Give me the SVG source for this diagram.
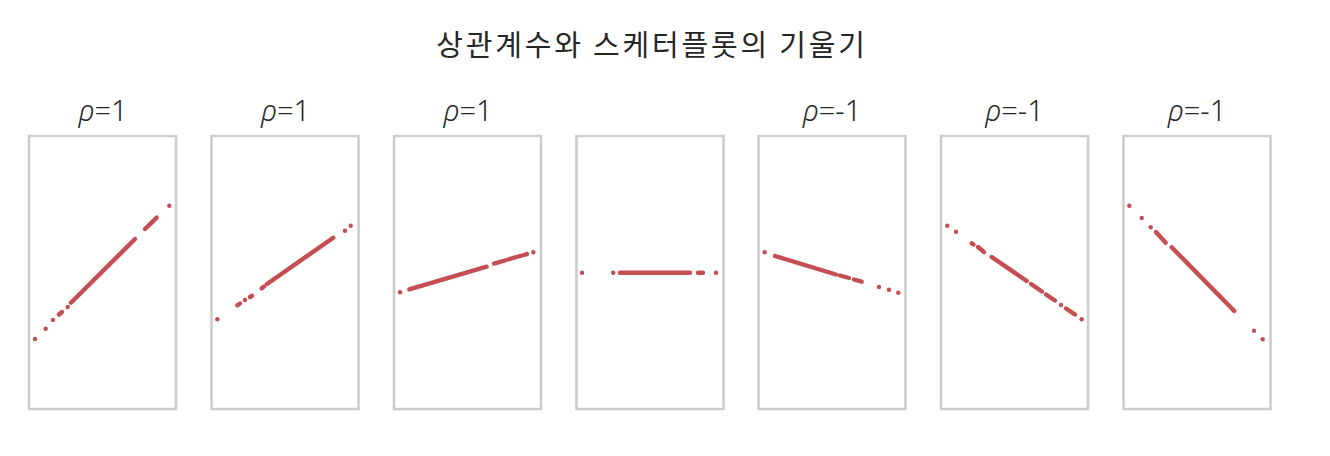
<svg xmlns="http://www.w3.org/2000/svg" width="1330" height="456" viewBox="0 0 1330 456">
<style>
.frame{fill:none;stroke:#cccccc;stroke-width:2.5}
.lab{font-family:"Noto Sans","Noto Sans CJK KR",sans-serif;font-size:29px;font-weight:300;fill:#262626;text-anchor:middle}
.rho{font-style:italic}
.title{font-family:"Noto Sans CJK KR","Noto Sans",sans-serif;font-size:29px;fill:#262626;text-anchor:middle;letter-spacing:2.8px}
.pt{fill:#c44e52}
.seg{stroke:#c44e52;stroke-width:4.4;stroke-linecap:round;fill:none}
</style>
<rect width="1330" height="456" fill="#ffffff"/>
<text class="title" x="652" y="56">상관계수와 스케터플롯의 기울기</text>

<g id="panel1">
<rect class="frame" x="29" y="136" width="147" height="273"/>
<text class="lab" x="103" y="121"><tspan class="rho">ρ</tspan>=1</text>
<circle class="pt" cx="35" cy="339" r="2.2"/><circle class="pt" cx="45.7" cy="328.7" r="2.2"/><circle class="pt" cx="53" cy="320" r="2.2"/>
<line class="seg" x1="59" y1="314.5" x2="62" y2="312"/><circle class="pt" cx="67.7" cy="307" r="2.2"/>
<line class="seg" x1="71" y1="302.7" x2="135" y2="239"/>
<line class="seg" x1="145" y1="229" x2="156.7" y2="217.7"/>
<circle class="pt" cx="169.3" cy="205.7" r="2.2"/>
</g>

<g id="panel2">
<rect class="frame" x="211.5" y="136" width="147" height="273"/>
<text class="lab" x="285.5" y="121"><tspan class="rho">ρ</tspan>=1</text>
<circle class="pt" cx="217.3" cy="319.3" r="2.2"/>
<line class="seg" x1="237.3" y1="305.3" x2="240" y2="303.5"/><circle class="pt" cx="245" cy="300" r="2.2"/><line class="seg" x1="250" y1="297" x2="252" y2="295.8"/>
<line class="seg" x1="261.7" y1="288.3" x2="264" y2="286.5"/>
<line class="seg" x1="267" y1="284" x2="333.3" y2="237.7"/>
<circle class="pt" cx="345" cy="230.7" r="2.2"/><circle class="pt" cx="350.7" cy="225.7" r="2.2"/>
</g>

<g id="panel3">
<rect class="frame" x="394" y="136" width="147" height="273"/>
<text class="lab" x="468" y="121"><tspan class="rho">ρ</tspan>=1</text>
<circle class="pt" cx="400" cy="292.3" r="2.2"/>
<line class="seg" x1="409.3" y1="289.3" x2="486.7" y2="266.7"/>
<line class="seg" x1="494" y1="263.6" x2="505" y2="260.5"/>
<line class="seg" x1="508" y1="259.5" x2="522" y2="255.5"/>
<line class="seg" x1="525" y1="254.7" x2="527" y2="254.1"/>
<circle class="pt" cx="533.3" cy="252.3" r="2.2"/>
</g>

<g id="panel4">
<rect class="frame" x="576.5" y="136" width="147" height="273"/>
<circle class="pt" cx="582" cy="272.7" r="2.2"/><circle class="pt" cx="613.3" cy="272.7" r="2.2"/>
<line class="seg" x1="620" y1="272.7" x2="690" y2="272.7"/>
<line class="seg" x1="698" y1="272.7" x2="703" y2="272.7"/>
<circle class="pt" cx="716" cy="272.7" r="2.2"/>
</g>

<g id="panel5">
<rect class="frame" x="758.5" y="136" width="147" height="273"/>
<text class="lab" x="832" y="121"><tspan class="rho">ρ</tspan>=-1</text>
<circle class="pt" cx="764.7" cy="252.3" r="2.2"/>
<line class="seg" x1="775" y1="256" x2="836" y2="274.5"/>
<line class="seg" x1="840" y1="275.5" x2="849" y2="278"/>
<line class="seg" x1="854" y1="279.5" x2="861.7" y2="281.7"/>
<circle class="pt" cx="879" cy="287" r="2.2"/><circle class="pt" cx="889" cy="289.7" r="2.2"/><circle class="pt" cx="898.3" cy="292.7" r="2.2"/>
</g>

<g id="panel6">
<rect class="frame" x="941" y="136" width="147" height="273"/>
<text class="lab" x="1014.5" y="121"><tspan class="rho">ρ</tspan>=-1</text>
<circle class="pt" cx="947.3" cy="225.7" r="2.2"/><circle class="pt" cx="956" cy="231.7" r="2.2"/>
<line class="seg" x1="971.7" y1="243.3" x2="973.5" y2="244.5"/><line class="seg" x1="978" y1="247" x2="984" y2="252"/>
<line class="seg" x1="991.7" y1="257" x2="1026.7" y2="281"/>
<line class="seg" x1="1031" y1="284" x2="1042" y2="291.5"/>
<line class="seg" x1="1046" y1="294.5" x2="1055" y2="300.5"/>
<circle class="pt" cx="1061" cy="305" r="2.2"/>
<line class="seg" x1="1066" y1="308.5" x2="1075" y2="314.5"/>
<circle class="pt" cx="1081.7" cy="319.3" r="2.2"/>
</g>

<g id="panel7">
<rect class="frame" x="1123.5" y="136" width="147" height="273"/>
<text class="lab" x="1197" y="121"><tspan class="rho">ρ</tspan>=-1</text>
<circle class="pt" cx="1129.3" cy="205.7" r="2.2"/><circle class="pt" cx="1141.7" cy="218" r="2.2"/><circle class="pt" cx="1150.7" cy="227.3" r="2.2"/>
<line class="seg" x1="1156" y1="232" x2="1165.7" y2="242.7"/>
<line class="seg" x1="1171.7" y1="247.3" x2="1234.3" y2="311"/>
<circle class="pt" cx="1254" cy="330.7" r="2.2"/><circle class="pt" cx="1262.7" cy="339.3" r="2.2"/>
</g>
</svg>
